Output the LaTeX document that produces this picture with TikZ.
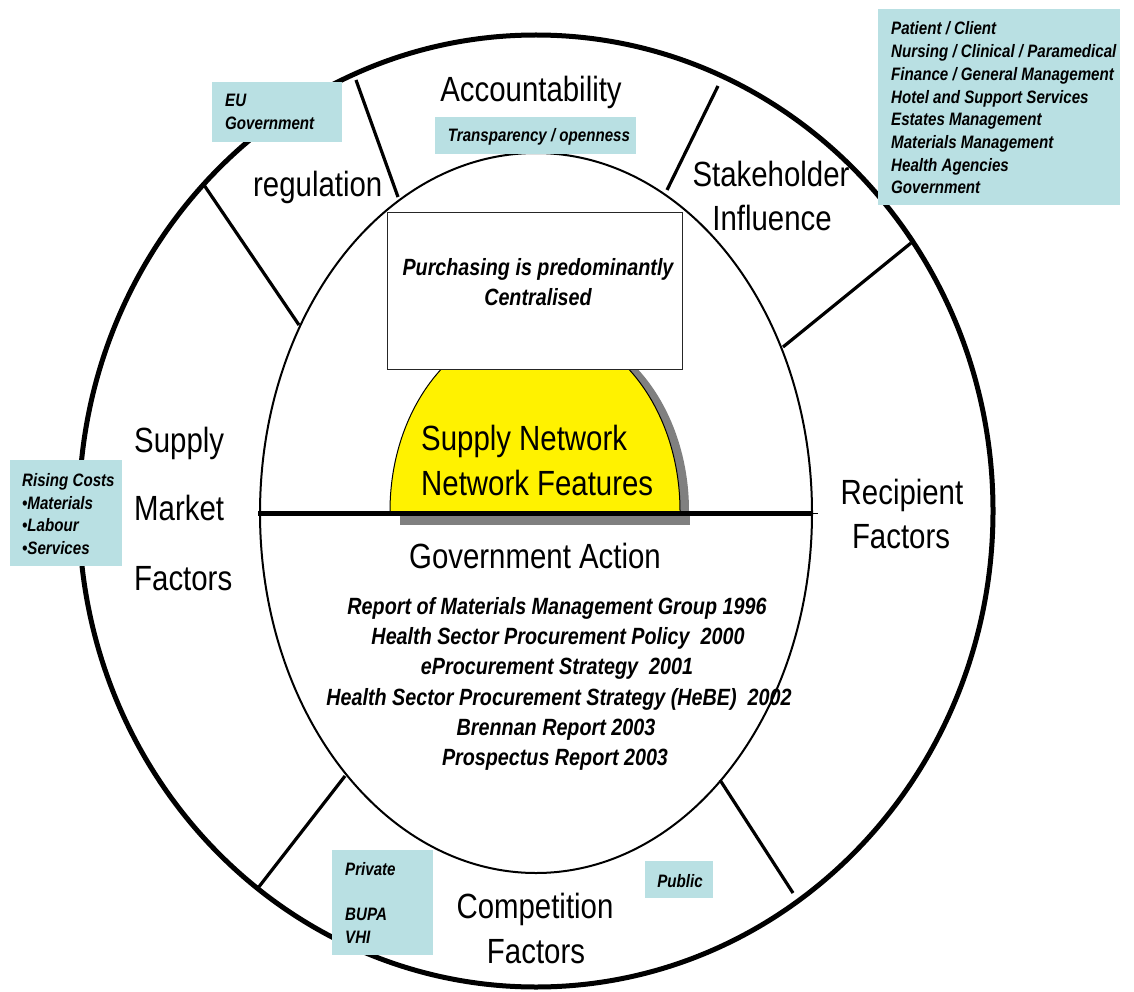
\documentclass[tikz,border=0pt]{standalone}
\usepackage{fontspec}
\setmainfont{Liberation Sans}
\newfontfamily\labf{Liberation Sans}[FakeStretch=0.84]
\definecolor{lblue}{RGB}{185,224,227}
\definecolor{shgray}{RGB}{128,128,128}
\tikzset{
  biglab/.style={font=\labf\fontsize{35}{42}\selectfont, inner sep=0pt},
  govlab/.style={font=\labf\bfseries\itshape\fontsize{23.5}{30}\selectfont, inner sep=0pt, anchor=base},
  boxlab/.style={font=\labf\bfseries\itshape\fontsize{18}{22}\selectfont, inner sep=0pt},
  infobox/.style={fill=lblue, draw=none, inner sep=0pt},
  spoke/.style={line width=3.2pt},
}
\begin{document}
\begin{tikzpicture}[x=1pt,y=-1pt]
\useasboundingbox[fill=white] (0,0) rectangle (1134,992);

% rings
\coordinate (c) at (536,511);
\coordinate (ci) at (536,513);
\draw[line width=5pt] (c) ellipse [x radius=457, y radius=476];
\draw[line width=2pt] (ci) ellipse [x radius=276, y radius=360];

% spokes
\coordinate (a1) at (356,80);  \coordinate (a2) at (398,197);
\coordinate (b1) at (204,185); \coordinate (b2) at (299,325);
\coordinate (c1) at (718,86);  \coordinate (c2) at (667,190);
\coordinate (d1) at (911,243); \coordinate (d2) at (783,347);
\coordinate (e1) at (345,776); \coordinate (e2) at (258,888);
\coordinate (f1) at (720,780); \coordinate (f2) at (793,893);
\draw[spoke] (a1) -- (a2);
\draw[spoke] (b1) -- (b2);
\draw[spoke] (c1) -- (c2);
\draw[spoke] (d1) -- (d2);
\draw[spoke] (e1) -- (e2);
\draw[spoke] (f1) -- (f2);

% dome shadow and dome
\begin{scope}
  \clip (370,369) rectangle (720,512);
  \fill[shgray] (544,511) ellipse [x radius=145, y radius=186];
  \fill[yellow] (535,511) ellipse [x radius=145, y radius=186];
  \draw[line width=1pt] (535,511) ellipse [x radius=145, y radius=186];
\end{scope}
\fill[shgray] (400,515) rectangle (690,525);

% horizontal divider
\coordinate (h1) at (258,513);
\coordinate (h2) at (812,513);
\coordinate (h3) at (818,513);
\draw[line width=5pt] (h1) -- (h2);
\draw[line width=1pt] (h2) -- (h3);

% central box
\node[draw=black!85, line width=1.3pt, fill=white, minimum width=295pt, minimum height=157pt, inner sep=0pt, anchor=north west] (pbox) at (387,212) {};
\node[govlab] (p1) at (538,275) {Purchasing is predominantly};
\node[govlab] (p2) at (538,305) {Centralised};

% dome text
\node[biglab, anchor=base west] (sn1) at (421,450) {Supply Network};
\node[biglab, anchor=base west] (sn2) at (421,495) {Network Features};

% big labels
\node[biglab, anchor=base] (acc) at (531,102) {Accountability};
\node[biglab, anchor=base west] (reg) at (253,197) {regulation};
\node[biglab, anchor=base] (st1) at (771,187) {Stakeholder};
\node[biglab, anchor=base] (st2) at (772,231) {Influence};
\node[biglab, anchor=base] (re1) at (902,504) {Recipient};
\node[biglab, anchor=base] (re2) at (901,548) {Factors};
\node[biglab, anchor=base west] (su1) at (134,452) {Supply};
\node[biglab, anchor=base west] (su2) at (134,520) {Market};
\node[biglab, anchor=base west] (su3) at (134,590) {Factors};
\node[biglab, anchor=base] (co1) at (535,918) {Competition};
\node[biglab, anchor=base] (co2) at (536,963) {Factors};
\node[biglab, anchor=base] (ga) at (535,568) {Government Action};

% government list
\node[govlab] (g1) at (557,614) {Report of Materials Management Group 1996};
\node[govlab] (g2) at (558,644) {Health Sector Procurement Policy\ \ 2000};
\node[govlab] (g3) at (557,674) {eProcurement Strategy\ \ 2001};
\node[govlab] (g4) at (559,705) {Health Sector Procurement Strategy (HeBE)\ \ 2002};
\node[govlab] (g5) at (556,735) {Brennan Report 2003};
\node[govlab] (g6) at (555,765) {Prospectus Report 2003};

% info boxes
\node[infobox, minimum width=130pt, minimum height=60pt, anchor=north west] (eub) at (212,82) {};
\node[boxlab, anchor=base west] (eu1) at (225,107) {EU};
\node[boxlab, anchor=base west] (eu2) at (225,130) {Government};

\node[infobox, minimum width=201pt, minimum height=37pt, anchor=north west] (trb) at (435,117) {};
\node[boxlab, anchor=base] (tr) at (539,142) {Transparency / openness};

\node[infobox, minimum width=242pt, minimum height=196pt, anchor=north west] (skb) at (878,9) {};
\foreach \t [count=\i] in {Patient / Client, Nursing / Clinical / Paramedical, Finance / General Management, Hotel and Support Services, Estates Management, Materials Management, Health Agencies, Government}
  \node[boxlab, anchor=base west] (sk\i) at (891,12.3+\i*22.7) {\t};

\node[infobox, minimum width=112pt, minimum height=106pt, anchor=north west] (rcb) at (10,460) {};
\node[boxlab, anchor=base west] (rc1) at (22,486) {Rising Costs};
\node[boxlab, anchor=base west] (rc2) at (22,509) {•Materials};
\node[boxlab, anchor=base west] (rc3) at (22,531) {•Labour};
\node[boxlab, anchor=base west] (rc4) at (22,554) {•Services};

\node[infobox, minimum width=101pt, minimum height=105pt, anchor=north west] (pvb) at (332,850) {};
\node[boxlab, anchor=base west] (pv1) at (345,875) {Private};
\node[boxlab, anchor=base west] (pv2) at (345,920) {BUPA};
\node[boxlab, anchor=base west] (pv3) at (345,943) {VHI};

\node[infobox, minimum width=68pt, minimum height=37pt, anchor=north west] (pub) at (645,861) {};
\node[boxlab, anchor=base] (pu) at (680,887) {Public};
\end{tikzpicture}
\end{document}
